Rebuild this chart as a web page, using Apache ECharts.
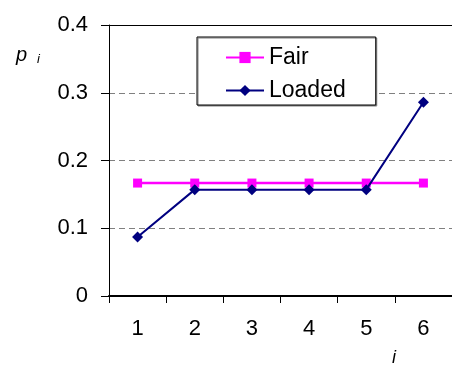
<!DOCTYPE html>
<html>
<head>
<meta charset="utf-8">
<script src="https://cdn.jsdelivr.net/npm/echarts@6/dist/echarts.min.js"></script>
<style>
  html, body { margin: 0; padding: 0; background: #fff; }
  #chart { width: 452px; height: 365px; }
</style>
</head>
<body>
<div id="chart"></div>
<script>
// Die faces and probability of each face for a fair and a loaded die
const faces = ['1', '2', '3', '4', '5', '6'];
const fair = [0.1667, 0.1667, 0.1667, 0.1667, 0.1667, 0.1667];
const loaded = [0.087, 0.157, 0.157, 0.157, 0.157, 0.286];
const yTicks = { min: 0, max: 0.4, interval: 0.1 };

const FONT = '"Liberation Sans", Arial, sans-serif';

const chart = echarts.init(document.getElementById('chart'), null, { renderer: 'canvas' });

chart.setOption({
  backgroundColor: '#fff',
  animation: false,
  textStyle: { fontFamily: FONT },
  grid: { left: 109, top: 25, width: 348, height: 271, containLabel: false },
  legend: {
    orient: 'vertical',
    left: 197,
    top: 37,
    padding: [9, 30, 3, 28],
    itemGap: 10,
    itemWidth: 38,
    itemHeight: 14,
    itemTextGap: 6,
    backgroundColor: '#fff',
    borderColor: '#000',
    borderWidth: 1,
    shadowColor: '#808080',
    shadowOffsetX: 1,
    shadowOffsetY: 1,
    shadowBlur: 0,
    textStyle: { fontFamily: FONT, fontSize: 23, color: '#000' },
    data: ['Fair', 'Loaded']
  },
  xAxis: [
    {
      type: 'category',
      data: faces,
      boundaryGap: true,
      axisLine: { lineStyle: { color: '#000', width: 2 } },
      axisTick: { show: true, length: 7, inside: false, lineStyle: { color: '#000', width: 1 } },
      axisLabel: { color: '#000', fontSize: 22, fontFamily: FONT, margin: 22 },
      splitLine: { show: false }
    },
    {
      // plot area top border
      type: 'category',
      position: 'top',
      data: faces,
      axisLine: { lineStyle: { color: '#000', width: 1 } },
      axisTick: { show: false },
      axisLabel: { show: false },
      splitLine: { show: false }
    }
  ],
  yAxis: {
    type: 'value',
    min: yTicks.min,
    max: yTicks.max,
    interval: yTicks.interval,
    axisLine: { show: true, lineStyle: { color: '#000', width: 1 } },
    axisTick: { show: true, length: 8, lineStyle: { color: '#000' } },
    axisLabel: {
      color: '#000', fontSize: 22, fontFamily: FONT, margin: 21,
      formatter: v => (v === 0 ? '0' : v.toFixed(1))
    },
    splitLine: { show: true, lineStyle: { color: '#808080', type: [6, 4], width: 1 } }
  },
  graphic: [
    { type: 'text', left: 16, top: 45, style: { text: 'p', font: 'italic 20px ' + FONT, fill: '#000' } },
    { type: 'text', left: 37, top: 53, style: { text: 'i', font: 'italic 13px ' + FONT, fill: '#000' } },
    { type: 'text', left: 392, top: 349, style: { text: 'i', font: 'italic 18px ' + FONT, fill: '#000' } }
  ],
  series: [
    {
      name: 'Fair',
      type: 'line',
      data: fair,
      symbol: 'rect',
      symbolSize: 9,
      lineStyle: { color: '#FF00FF', width: 2.5 },
      itemStyle: { color: '#FF00FF' },
      z: 3
    },
    {
      name: 'Loaded',
      type: 'line',
      data: loaded,
      symbol: 'diamond',
      symbolSize: 11,
      lineStyle: { color: '#000080', width: 2 },
      itemStyle: { color: '#000080' },
      z: 4
    }
  ]
});
</script>
</body>
</html>
